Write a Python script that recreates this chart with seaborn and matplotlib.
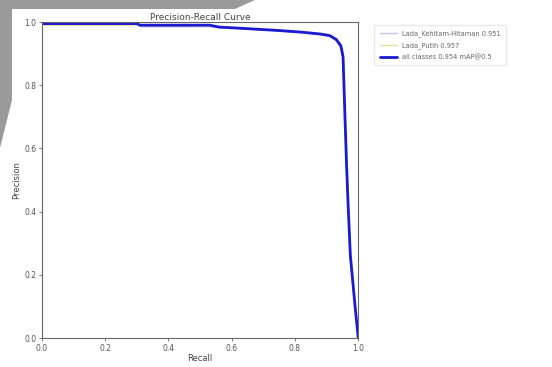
"""Precision-recall curve (YOLO-style) for two pepper classes plus the class mean."""

import matplotlib.pyplot as plt
import numpy as np
import pandas as pd
import seaborn as sns
from matplotlib.patches import Polygon

# ------------------------------------------------------------------ #
# Data
# ------------------------------------------------------------------ #
RECALL = [0.00, 0.10, 0.30, 0.31, 0.45, 0.53, 0.56, 0.65, 0.75, 0.82,
          0.88, 0.91, 0.93, 0.945, 0.952, 0.958, 0.963, 0.968, 0.975, 0.99, 1.00]

PREC_KEHITAM = [1.000, 1.000, 1.000, 0.985, 0.985, 0.985, 0.982, 0.978, 0.972, 0.966,
                0.960, 0.954, 0.941, 0.918, 0.880, 0.690, 0.540, 0.410, 0.250, 0.090, 0.000]
PREC_PUTIH = [0.990, 0.990, 0.990, 0.990, 0.990, 0.988, 0.985, 0.980, 0.975, 0.969,
              0.964, 0.959, 0.948, 0.930, 0.898, 0.715, 0.560, 0.430, 0.275, 0.110, 0.000]
PREC_ALL = [0.995, 0.995, 0.995, 0.990, 0.990, 0.990, 0.984, 0.979, 0.973, 0.968,
            0.962, 0.957, 0.945, 0.925, 0.890, 0.700, 0.550, 0.420, 0.262, 0.100, 0.000]

SERIES = ["Lada_Kehitam-Hitaman 0.951", "Lada_Putih 0.957", "all classes 0.954 mAP@0.5"]
COLORS = ["#c4c6ee", "#e6dc9c", "#1a1ad0"]
WIDTHS = [1.0, 1.0, 2.0]

df = pd.DataFrame({
    "recall": RECALL * 3,
    "precision": PREC_KEHITAM + PREC_PUTIH + PREC_ALL,
    "series": np.repeat(SERIES, len(RECALL)),
})

# ------------------------------------------------------------------ #
# Plot
# ------------------------------------------------------------------ #
sns.set_theme(style="ticks", rc={"axes.edgecolor": "#666666", "axes.linewidth": 0.8,
                                 "xtick.color": "#666666", "ytick.color": "#666666",
                                 "xtick.major.size": 2.5, "ytick.major.size": 2.5,
                                 "xtick.major.width": 0.6, "ytick.major.width": 0.6})
plt.rcParams["font.family"] = ["DejaVu Sans"]

fig = plt.figure(figsize=(5.52, 3.67), dpi=100)
fig.patch.set_facecolor("white")

# grey screenshot artefact in the top-left corner
W, H = 552, 367
corner = [(0, 0), (255, 0), (235, 9), (12, 9), (12, 100), (0, 148)]
fig.patches.append(Polygon([(x / W, 1 - y / H) for x, y in corner], closed=True,
                           transform=fig.transFigure, facecolor="#9a9a9a",
                           edgecolor="none", zorder=0))

ax = fig.add_axes([0.076, 0.079, 0.573, 0.861])
ax.set_facecolor("white")

for name, color, lw in zip(SERIES, COLORS, WIDTHS):
    sns.lineplot(data=df[df.series == name], x="recall", y="precision",
                 sort=False, estimator=None, color=color, linewidth=lw,
                 label=name, ax=ax)

ax.set_xlim(0, 1)
ax.set_ylim(0, 1)
ax.set_xticks(np.arange(0, 1.01, 0.2))
ax.set_yticks(np.arange(0, 1.01, 0.2))
ax.tick_params(labelsize=5.5, labelcolor="#555555", pad=1.5)
ax.set_xlabel("Recall", fontsize=6, color="#444444", labelpad=1)
ax.set_ylabel("Precision", fontsize=6, color="#444444", labelpad=2)
ax.set_title("Precision-Recall Curve", fontsize=6.5, color="#444444", pad=0.5)

leg = ax.legend(bbox_to_anchor=(1.04, 1), loc="upper left", fontsize=4.8,
                frameon=True, borderpad=0.8, handlelength=2.6, labelspacing=0.7)
leg.get_frame().set_edgecolor("#e4e4e4")
for txt in leg.get_texts():
    txt.set_color("#666666")

fig.savefig("out.png", dpi=100)
